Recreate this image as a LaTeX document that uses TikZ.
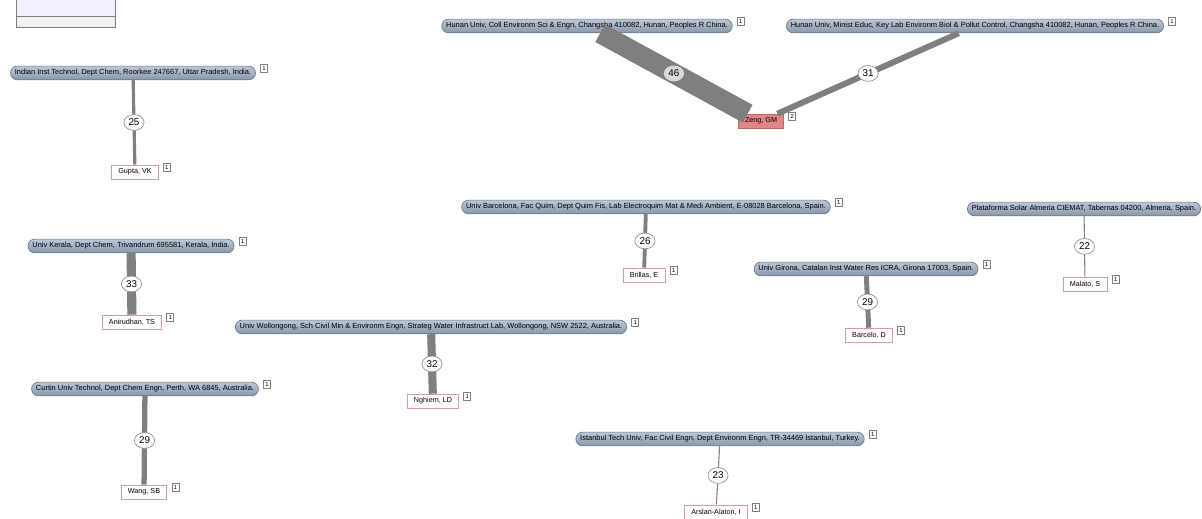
\documentclass[tikz,border=0pt]{standalone}
\usepackage{fontspec}
\setmainfont{Liberation Sans}
\usetikzlibrary{shapes.geometric}
\definecolor{insttop}{HTML}{BCC8D6}
\definecolor{instbot}{HTML}{8797AA}
\definecolor{instline}{HTML}{6C7B8C}
\definecolor{authline}{HTML}{DE9AA2}
\definecolor{zengfill}{HTML}{E38487}
\definecolor{linkgray}{HTML}{7F7F7F}
\tikzset{
  inst/.style={draw=instline, top color=insttop, bottom color=instbot, rounded corners=3.9pt,
    minimum height=7.8pt, inner xsep=2.5pt, inner ysep=0pt, font=\fontsize{4.25}{5}\selectfont},
  auth/.style={draw=authline, fill=white, minimum height=7.9pt, inner xsep=3.8pt, inner ysep=0pt,
    font=\fontsize{4.1}{5}\selectfont},
  cnt/.style={draw=gray, fill=white, line width=0.3pt, inner sep=0.5pt, minimum width=4pt,
    minimum height=4.6pt, font=\fontsize{3.4}{4}\selectfont},
  wt/.style={ellipse, draw=gray!85, line width=0.4pt, fill=white, inner sep=0.6pt,
    minimum width=11.5pt, minimum height=9pt, font=\fontsize{5.6}{6}\selectfont},
  link/.style={draw=linkgray},
}
\begin{document}
\begin{tikzpicture}[x=0.02cm, y=-0.02cm]
\useasboundingbox (0,0) rectangle (1202,519);
% cut-off panel in the corner
\fill[color=blue!6] (16,0) rectangle (115,16);
\fill[color=gray!10] (16,16) rectangle (115,27);
\draw[color=gray] (16,0) -- (16,27) -- (115,27) -- (115,0);
\draw[color=gray] (16,16) -- (115,16);
% institutions
\node[inst, label={[cnt, anchor=south west, xshift=2.5pt]east:1}] (indian) at (133,73) {Indian Inst Technol, Dept Chem, Roorkee 247667, Uttar Pradesh, India.};
\node[inst, label={[cnt, anchor=south west, xshift=2.5pt]east:1}] (hunancoll) at (587,26) {Hunan Univ, Coll Environm Sci \& Engn, Changsha 410082, Hunan, Peoples R China.};
\node[inst, label={[cnt, anchor=south west, xshift=2.5pt]east:1}] (hunanmin) at (975,26) {Hunan Univ, Minist Educ, Key Lab Environm Biol \& Pollut Control, Changsha 410082, Hunan, Peoples R China.};
\node[inst, label={[cnt, anchor=south west, xshift=2.5pt]east:1}] (kerala) at (131,246) {Univ Kerala, Dept Chem, Trivandrum 695581, Kerala, India.};
\node[inst, label={[cnt, anchor=south west, xshift=2.5pt]east:1}] (curtin) at (145,389) {Curtin Univ Technol, Dept Chem Engn, Perth, WA 6845, Australia.};
\node[inst, label={[cnt, anchor=south west, xshift=2.5pt]east:1}] (wollongong) at (431,327) {Univ Wollongong, Sch Civil Min \& Environm Engn, Strateg Water Infrastruct Lab, Wollongong, NSW 2522, Australia.};
\node[inst, label={[cnt, anchor=south west, xshift=2.5pt]east:1}] (barcelona) at (646,207) {Univ Barcelona, Fac Quim, Dept Quim Fis, Lab Electroquim Mat \& Medi Ambient, E-08028 Barcelona, Spain.};
\node[inst, label={[cnt, anchor=south west, xshift=2.5pt]east:1}] (girona) at (866,269) {Univ Girona, Catalan Inst Water Res ICRA, Girona 17003, Spain.};
\node[inst] (almeria) at (1084,209) {Plataforma Solar Almeria CIEMAT, Tabernas 04200, Almeria, Spain.};
\node[inst, label={[cnt, anchor=south west, xshift=2.5pt]east:1}] (istanbul) at (720,439) {Istanbul Tech Univ, Fac Civil Engn, Dept Environm Engn, TR-34469 Istanbul, Turkey.};
% authors
\node[auth, label={[cnt, anchor=south west, xshift=2.5pt]east:1}] (gupta) at (135,172) {Gupta, VK};
\node[auth, fill=zengfill, draw=zengfill!80!black, label={[cnt, anchor=south west, xshift=2.5pt]east:2}] (zeng) at (761,121) {Zeng, GM};
\node[auth, label={[cnt, anchor=south west, xshift=2.5pt]east:1}] (anirudhan) at (132,322) {Anirudhan, TS};
\node[auth, label={[cnt, anchor=south west, xshift=2.5pt]east:1}] (wang) at (144,492) {Wang, SB};
\node[auth, label={[cnt, anchor=south west, xshift=2.5pt]east:1}] (nghiem) at (433,401) {Nghiem, LD};
\node[auth, label={[cnt, anchor=south west, xshift=2.5pt]east:1}] (brillas) at (644,275) {Brillas, E};
\node[auth, label={[cnt, anchor=south west, xshift=2.5pt]east:1}] (barcelo) at (869,335) {Barcelo, D};
\node[auth, label={[cnt, anchor=south west, xshift=2.5pt]east:1}] (malato) at (1085,284) {Malato, S};
\node[auth, label={[cnt, anchor=south west, xshift=2.5pt]east:1}] (arslan) at (716,512) {Arslan-Alaton, I};
% links
\draw[link, line width=1.8pt] (indian) -- node[wt]{25} (gupta);
\draw[link, line width=11.5pt] (hunancoll) -- node[wt, fill=gray!30, draw=none]{46} (zeng);
\draw[link, line width=3.4pt] (hunanmin) -- node[wt]{31} (zeng);
\draw[link, line width=5.2pt] (kerala) -- node[wt]{33} (anirudhan);
\draw[link, line width=3pt] (curtin) -- node[wt]{29} (wang);
\draw[link, line width=4.6pt] (wollongong) -- node[wt]{32} (nghiem);
\draw[link, line width=2.2pt] (barcelona) -- node[wt]{26} (brillas);
\draw[link, line width=2.8pt] (girona) -- node[wt]{29} (barcelo);
\draw[link, line width=0.6pt] (almeria) -- node[wt]{22} (malato);
\draw[link, line width=0.6pt] (istanbul) -- node[wt]{23} (arslan);
\end{tikzpicture}
\end{document}
